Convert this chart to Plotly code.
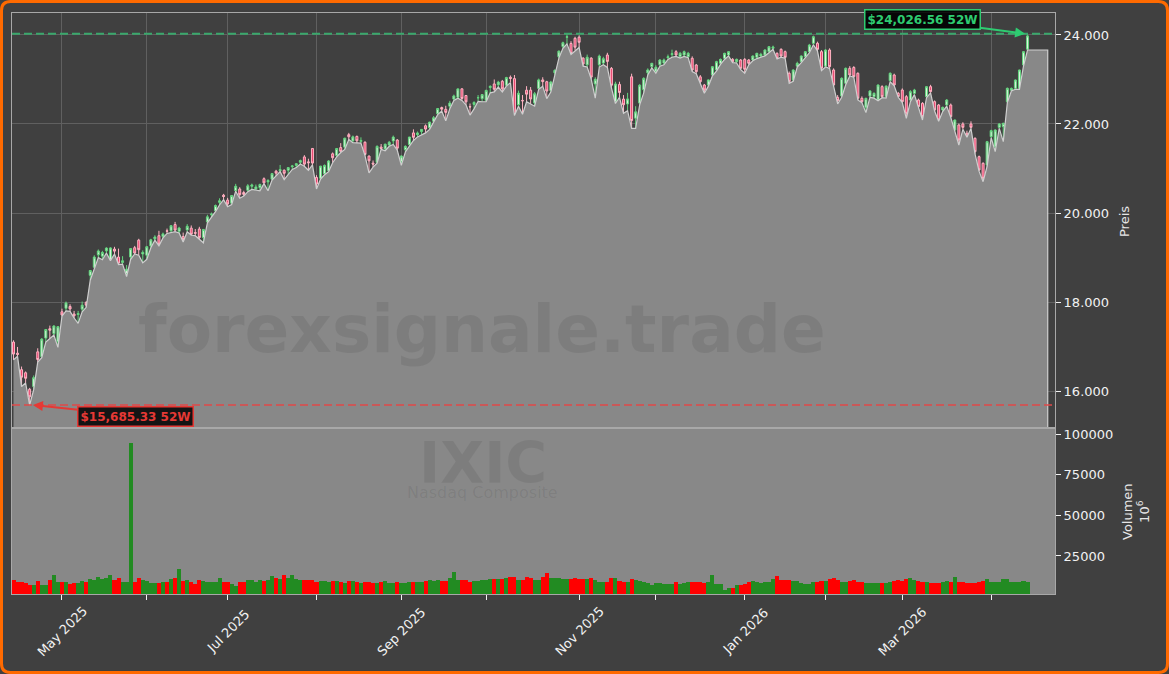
import pandas as pd
import plotly.graph_objects as go

# trading days (NASDAQ), Apr 14 2025 .. Apr 15 2026
holidays = ["2025-04-18", "2025-05-26", "2025-06-19", "2025-07-04", "2025-09-01",
            "2025-11-27", "2025-12-25", "2026-01-01", "2026-01-19", "2026-02-16",
            "2026-04-03"]
dates = [d for d in pd.bdate_range("2025-04-14", "2026-04-15")
         if d.strftime("%Y-%m-%d") not in holidays]

opens = [17100, 16850, 16480, 16410, 16040, 16100, 16880, 16770, 17190, 17400,
         17290, 17110, 17780, 17860, 17900, 17730, 17720, 17840, 17990, 18600,
         18780, 19060, 19030, 19150, 18950, 19190, 19010, 18890, 18640, 19010,
         19220, 19390, 19080, 19050, 19260, 19420, 19490, 19470, 19600, 19600,
         19740, 19590, 19470, 19620, 19660, 19560, 19640, 19450, 19800, 19960,
         20050, 20240, 20400, 20290, 20220, 20500, 20540, 20460, 20510, 20600,
         20540, 20570, 20770, 20700, 20760, 20940, 20950, 20960, 20960, 21040,
         21070, 21140, 21260, 21150, 21450, 20800, 20780, 20880, 20950, 21330,
         21290, 21470, 21480, 21760, 21620, 21720, 21610, 21590, 21280, 21120,
         21140, 21480, 21440, 21530, 21620, 21640, 21150, 21420, 21540, 21800,
         21760, 21830, 21960, 21920, 22060, 22230, 22370, 22330, 22400, 22560,
         22600, 22790, 22640, 22390, 22440, 22590, 22570, 22530, 22820, 22900,
         22880, 22960, 22870, 23050, 23020, 22430, 22530, 22760, 22760, 22470,
         22800, 22990, 22950, 22750, 23150, 23510, 23740, 23950, 23810, 23925,
         23950, 23480, 23330, 23480, 22900, 23330, 23370, 23550, 23250, 22500,
         22890, 22560, 22450, 23060, 22130, 22470, 22770, 23150, 23290, 23180,
         23330, 23370, 23490, 23560, 23625, 23513, 23551, 23513, 23476, 23326,
         23060, 22876, 22876, 23101, 23214, 23363, 23476, 23551, 23453, 23401,
         23438, 23453, 23438, 23438, 23498, 23530, 23551, 23625, 23700, 23588,
         23678, 23625, 23139, 22989, 23300, 23401, 23513, 23625, 23813, 23813,
         23625, 23300, 23663, 23214, 22599, 22629, 22914, 23251, 23270, 23139,
         22577, 22375, 22629, 22614, 22539, 22839, 22614, 22974, 23101, 22689,
         22764, 22614, 22539, 22689, 22539, 22465, 22614, 22839, 22502, 22427,
         22315, 22427, 22427, 21865, 21978, 22000, 21791, 22000, 21678, 21266,
         21116, 21079, 21716, 21491, 21925, 21940, 22502, 22760, 22801, 22801,
         23326, 23680]

highs = [17140, 16990, 16550, 16440, 16070, 16350, 16960, 17190, 17390, 17470,
         17480, 17460, 17850, 18010, 17950, 17800, 17800, 18010, 18020, 18720,
         19050, 19180, 19150, 19230, 19230, 19240, 19200, 19030, 18830, 19210,
         19260, 19420, 19160, 19260, 19420, 19500, 19600, 19560, 19650, 19730,
         19800, 19690, 19560, 19750, 19720, 19640, 19690, 19640, 19960, 20010,
         20190, 20330, 20430, 20340, 20400, 20655, 20580, 20500, 20650, 20660,
         20640, 20660, 20800, 20760, 20900, 20970, 21080, 20980, 21030, 21080,
         21120, 21200, 21300, 21220, 21460, 20850, 21060, 21090, 21190, 21360,
         21460, 21570, 21690, 21800, 21740, 21740, 21700, 21610, 21290, 21180,
         21520, 21550, 21560, 21620, 21740, 21660, 21300, 21520, 21710, 21880,
         21830, 21880, 21990, 22050, 22180, 22360, 22390, 22410, 22520, 22660,
         22800, 22800, 22650, 22460, 22510, 22650, 22670, 22770, 22870, 23000,
         22970, 22990, 23060, 23090, 23100, 22750, 22650, 22850, 22830, 22720,
         23020, 23050, 22970, 22970, 23230, 23650, 23850, 24020, 23860, 23960,
         23990, 23500, 23560, 23500, 23050, 23560, 23510, 23600, 23280, 22950,
         22950, 22650, 22700, 23130, 22400, 22900, 23050, 23250, 23370, 23320,
         23460, 23470, 23560, 23670, 23660, 23620, 23650, 23620, 23520, 23350,
         23100, 22900, 23000, 23300, 23420, 23470, 23600, 23640, 23480, 23470,
         23460, 23480, 23460, 23540, 23600, 23600, 23680, 23750, 23760, 23610,
         23700, 23650, 23180, 23230, 23400, 23540, 23640, 23800, 23985, 23850,
         23660, 23680, 23700, 23250, 22650, 23050, 23270, 23300, 23300, 23160,
         22620, 22590, 22760, 22710, 22890, 22870, 22870, 23160, 23130, 22720,
         22800, 22650, 22760, 22790, 22570, 22490, 22850, 22880, 22530, 22450,
         22390, 22560, 22460, 22100, 22010, 22040, 21850, 22060, 21700, 21290,
         21140, 21620, 21870, 21880, 22020, 22030, 22820, 22820, 23000, 23220,
         23640, 24026.56]

lows = [16700, 16780, 16100, 16180, 15685.33, 16030, 16650, 16750, 17100, 17170,
        17260, 16980, 17680, 17800, 17790, 17640, 17520, 17780, 17880, 18490,
        18760, 19000, 18950, 19100, 18930, 19080, 18840, 18850, 18570, 18960,
        19080, 19050, 18880, 18960, 19220, 19390, 19260, 19440, 19540, 19560,
        19580, 19550, 19350, 19580, 19500, 19490, 19400, 19330, 19780, 19900,
        20030, 20180, 20300, 20140, 20190, 20490, 20330, 20380, 20480, 20530,
        20510, 20500, 20660, 20500, 20740, 20830, 20930, 20750, 20860, 20980,
        21020, 21100, 21050, 20960, 21080, 20540, 20760, 20860, 20930, 21130,
        21260, 21360, 21430, 21650, 21580, 21570, 21570, 21290, 20900, 21030,
        21120, 21430, 21400, 21500, 21540, 21410, 21070, 21370, 21500, 21630,
        21710, 21760, 21800, 21880, 22030, 22210, 22290, 22070, 22340, 22530,
        22580, 22530, 22430, 22200, 22340, 22510, 22500, 22500, 22700, 22720,
        22830, 22720, 22850, 22930, 22190, 22400, 22220, 22500, 22450, 22400,
        22780, 22850, 22570, 22720, 23100, 23480, 23700, 23800, 23560, 23650,
        23720, 23300, 23280, 23010, 22580, 23280, 23330, 23270, 22810, 22460,
        22600, 22240, 22300, 21900, 21900, 22430, 22700, 23100, 23260, 23140,
        23300, 23330, 23450, 23500, 23520, 23480, 23520, 23490, 23180, 23130,
        22920, 22690, 22850, 23080, 23190, 23340, 23450, 23530, 23380, 23370,
        23220, 23140, 23330, 23420, 23470, 23500, 23530, 23600, 23680, 23460,
        23500, 23480, 22914, 22960, 23280, 23380, 23490, 23600, 23780, 23640,
        23200, 23280, 23250, 22850, 22450, 22600, 22880, 23080, 23050, 22540,
        22480, 22255, 22600, 22580, 22520, 22590, 22580, 22950, 22860, 22600,
        22480, 22127, 22500, 22660, 22370, 22090, 22590, 22700, 22290, 22060,
        22280, 22400, 22150, 21840, 21528, 21880, 21700, 21900, 21330, 20940,
        20704, 21050, 21690, 21378, 21900, 21603, 22480, 22740, 22780, 22780,
        23300, 23663]

closes = [16830, 16823, 16310, 16286, 15870, 16300, 16708, 17166, 17383, 17366,
          17461, 17446, 17710, 17978, 17844, 17690, 17738, 17928, 17929, 18708,
          19010, 19147, 19113, 19212, 19215, 19143, 18873, 18925, 18737, 19200,
          19100, 19175, 19114, 19243, 19399, 19460, 19299, 19530, 19591, 19715,
          19615, 19662, 19407, 19701, 19521, 19546, 19447, 19631, 19913, 19974,
          20167, 20273, 20370, 20202, 20393, 20601, 20412, 20418, 20611, 20630,
          20586, 20640, 20677, 20730, 20885, 20896, 20974, 20892, 21020, 21057,
          21108, 21178, 21098, 21130, 21122, 20650, 21053, 21070, 21169, 21242,
          21450, 21385, 21682, 21713, 21711, 21623, 21630, 21315, 21172, 21100,
          21497, 21450, 21545, 21590, 21705, 21456, 21280, 21498, 21707, 21700,
          21799, 21879, 21886, 22043, 22141, 22348, 22333, 22261, 22470, 22631,
          22789, 22573, 22497, 22384, 22484, 22591, 22660, 22755, 22845, 22780,
          22941, 22789, 23043, 23024, 22204, 22690, 22521, 22670, 22562, 22680,
          22991, 22953, 22740, 22942, 23205, 23637, 23827, 23958, 23581, 23725,
          23835, 23349, 23500, 23054, 23004, 23527, 23468, 23406, 22870, 22900,
          22708, 22432, 22564, 22078, 22273, 22872, 23025, 23215, 23365, 23275,
          23438, 23440, 23510, 23580, 23551, 23588, 23625, 23588, 23214, 23176,
          22950, 22764, 22990, 23288, 23401, 23453, 23588, 23625, 23401, 23453,
          23251, 23229, 23363, 23528, 23588, 23565, 23663, 23738, 23730, 23476,
          23528, 23498, 22951, 23214, 23363, 23528, 23625, 23775, 23962, 23678,
          23251, 23663, 23288, 22876, 22524, 23026, 23251, 23101, 23064, 22577,
          22502, 22577, 22742, 22689, 22876, 22614, 22850, 23139, 22876, 22614,
          22502, 22240, 22727, 22764, 22390, 22165, 22839, 22727, 22315, 22090,
          22375, 22539, 22165, 22090, 21641, 21925, 21731, 21925, 21378, 20967,
          20779, 21603, 21850, 21865, 22000, 22015, 22801, 22800, 22989, 23214,
          23625, 23980]

volume = [10300, 8900, 9000, 8400, 7200, 7200, 9600, 7400, 7400, 10300,
          13300, 9000, 9000, 8800, 7800, 8200, 8400, 9600, 9000, 10900,
          10300, 12100, 10900, 11500, 13300, 10300, 11500, 9000, 9000, 94500,
          9000, 11500, 10300, 9600, 8400, 8400, 8400, 9000, 9000, 10900,
          11500, 17000, 9600, 10300, 9000, 7800, 10300, 9600, 9000, 9000,
          9000, 11500, 9000, 9000, 7800, 6600, 9000, 9000, 10300, 10300,
          9000, 10000, 9600, 10300, 12700, 11500, 10900, 13300, 11500, 13300,
          11000, 10300, 10300, 10300, 10300, 9000, 9600, 9600, 9000, 9600,
          9600, 9000, 8400, 9600, 9600, 9000, 8400, 9000, 9000, 8400,
          8400, 9000, 9600, 8400, 8400, 9000, 8300, 8300, 9000, 9000,
          9000, 9000, 9640, 10000, 9600, 10300, 9640, 9640, 11490, 15170,
          10260, 10260, 10260, 9030, 9640, 9640, 10260, 10260, 10870, 10870,
          10870, 10870, 11490, 12100, 12100, 10260, 10260, 12100, 11490, 10260,
          10260, 12100, 14560, 11490, 11490, 11490, 10870, 10870, 10870, 11490,
          10870, 10870, 10870, 11490, 10260, 9030, 9030, 9030, 11490, 11490,
          9640, 9030, 9030, 10870, 10260, 9640, 9030, 8420, 7190, 8420,
          8420, 7800, 7800, 7800, 9030, 7800, 8420, 9030, 9030, 9030,
          9030, 8420, 9030, 13330, 7800, 7800, 4120, 5340, 5340, 7190,
          7190, 7800, 9030, 9640, 9030, 8420, 9030, 9030, 10870, 12720,
          10260, 10260, 10260, 9640, 9640, 8420, 8000, 7800, 9030, 9030,
          9640, 9640, 10870, 11490, 10260, 9030, 9030, 9640, 10260, 9030,
          9030, 8420, 8420, 8420, 8420, 8420, 8420, 9030, 9640, 10260,
          9640, 10870, 11490, 10260, 9640, 9030, 9030, 8420, 8420, 8420,
          9030, 9640, 9030, 12100, 9030, 9030, 8420, 8420, 8420, 9030,
          9640, 10870, 9030, 9030, 9030, 10870, 10870, 9030, 9030, 9030,
          9640, 9030]

price_ticks = [16000, 18000, 20000, 22000, 24000]
price_tick_text = ["16.000", "18.000", "20.000", "22.000", "24.000"]
vol_ticks = [25000, 50000, 75000, 100000]
month_labels = ["May 2025", "", "Jul 2025", "", "Sep 2025", "", "Nov 2025", "",
                "Jan 2026", "", "Mar 2026", ""]
high_52w = 24026.56
low_52w = 15685.33

x = list(range(len(dates)))
month_starts = [i for i in range(1, len(dates)) if dates[i].month != dates[i - 1].month]

W, H = 1169, 674
BG = "#404040"
FILL = "#888888"
FONT = "DejaVu Sans"
TXT = "#f2f2f2"

def px_x(p):
    return p / W

def px_y(p):
    return 1 - p / H

xdom = [px_x(12), px_x(1055)]
price_dom = [px_y(428), px_y(13)]
vol_dom = [px_y(594), px_y(428)]

fig = go.Figure()

# grey area under the lows, padded a few bars past the last candle
pad = 5
fig.add_trace(go.Scatter(
    x=x + [x[-1] + pad, x[-1] + pad], y=lows + [lows[-1], 10000],
    mode="lines", line=dict(color="#cfcfcf", width=1.2),
    fill="tozeroy", fillcolor=FILL, hoverinfo="skip", showlegend=False))

fig.add_trace(go.Candlestick(
    x=x, open=opens, high=highs, low=lows, close=closes,
    increasing=dict(line=dict(color="#63d47e", width=1), fillcolor="#dff5e2"),
    decreasing=dict(line=dict(color="#ffb3c3", width=1), fillcolor="#e8436d"),
    whiskerwidth=0, showlegend=False, hoverinfo="skip"))

vol_colors = ["forestgreen" if c >= o else "red" for o, c in zip(opens, closes)]
fig.add_trace(go.Bar(
    x=x, y=volume, marker=dict(color=vol_colors, line=dict(width=0)),
    width=1.0, xaxis="x2", yaxis="y2", showlegend=False, hoverinfo="skip"))

axis_common = dict(showline=True, mirror=True, linecolor="#a8a8a8", linewidth=1,
                   zeroline=False, tickfont=dict(family=FONT, size=13, color=TXT),
                   tickcolor=TXT)

fig.update_layout(
    width=W, height=H,
    margin=dict(l=0, r=0, t=0, b=0),
    paper_bgcolor=BG, plot_bgcolor=BG,
    font=dict(family=FONT, color=TXT),
    showlegend=False,
    bargap=0,
    xaxis=dict(domain=xdom, anchor="y", range=[-0.37, 257.8],
               tickvals=month_starts, showticklabels=False, ticks="",
               showgrid=True, gridcolor="#606060", gridwidth=1,
               rangeslider=dict(visible=False), **axis_common),
    yaxis=dict(domain=price_dom, anchor="x", side="right", range=[15169, 24494],
               tickvals=price_ticks, ticktext=price_tick_text,
               ticks="outside", ticklen=5,
               showgrid=True, gridcolor="#606060", gridwidth=1, **axis_common),
    xaxis2=dict(domain=xdom, anchor="y2", matches="x",
                tickvals=month_starts, showticklabels=False,
                ticks="outside", ticklen=5, showgrid=False, **axis_common),
    yaxis2=dict(domain=vol_dom, anchor="x2", side="right", range=[1600, 103700],
                tickvals=vol_ticks, ticktext=[str(v) for v in vol_ticks],
                ticks="outside", ticklen=5, showgrid=False, **axis_common),
)

# month labels, rotated and centred under their ticks
for tv, lab in zip(month_starts, month_labels):
    if lab:
        fig.add_annotation(text=lab, xref="x2", yref="paper", x=tv, y=px_y(631),
                           showarrow=False, textangle=-45,
                           xanchor="center", yanchor="middle",
                           font=dict(family=FONT, size=13, color=TXT))

# grey background of volume panel
fig.add_shape(type="rect", xref="paper", yref="paper",
              x0=xdom[0], x1=xdom[1], y0=vol_dom[0], y1=vol_dom[1],
              fillcolor=FILL, line=dict(width=0), layer="below")

# 52 week high / low lines
fig.add_shape(type="line", xref="paper", yref="y", x0=xdom[0], x1=xdom[1],
              y0=high_52w, y1=high_52w,
              line=dict(color="#3aa86c", width=2, dash="8px,4px"))
fig.add_shape(type="line", xref="paper", yref="y", x0=xdom[0], x1=xdom[1],
              y0=low_52w, y1=low_52w,
              line=dict(color="#e04848", width=1.5, dash="8px,4px"))

# orange frame with rounded corners
r, b = 9, 1.5
rx, ry = r / W, r / H
x0, x1, y0, y1 = b / W, 1 - b / W, b / H, 1 - b / H
frame = (f"M {x0 + rx},{y1} L {x1 - rx},{y1} Q {x1},{y1} {x1},{y1 - ry} "
         f"L {x1},{y0 + ry} Q {x1},{y0} {x1 - rx},{y0} L {x0 + rx},{y0} "
         f"Q {x0},{y0} {x0},{y0 + ry} L {x0},{y1 - ry} Q {x0},{y1} {x0 + rx},{y1} Z")
fig.add_shape(type="path", xref="paper", yref="paper", path=frame,
              line=dict(color="#ff6a00", width=3), layer="above")

# watermarks
wm = "rgba(0,0,0,0.08)"
fig.add_annotation(text="<b>forexsignale.trade</b>", xref="paper", yref="paper",
                   x=px_x(482), y=px_y(330), showarrow=False,
                   xanchor="center", yanchor="middle",
                   font=dict(family=FONT, size=66, color=wm))
fig.add_annotation(text="<b>IXIC</b>", xref="paper", yref="paper",
                   x=px_x(483), y=px_y(463), showarrow=False,
                   xanchor="center", yanchor="middle",
                   font=dict(family=FONT, size=57, color=wm))
fig.add_annotation(text="Nasdaq Composite", xref="paper", yref="paper",
                   x=px_x(482), y=px_y(492), showarrow=False,
                   xanchor="center", yanchor="middle",
                   font=dict(family=FONT, size=16, color=wm))

# 52W labels
fig.add_annotation(text=f"<b>${high_52w:,.2f} 52W</b>", x=250.4, y=high_52w,
                   xref="x", yref="y", ax=-103, ay=-14,
                   font=dict(family=FONT, size=12, color="#2ecc71"),
                   bgcolor="rgba(0,0,0,0.9)", bordercolor="#2ecc71",
                   borderwidth=1.5, borderpad=2,
                   arrowcolor="#2ecc71", arrowwidth=2, arrowhead=2, arrowsize=1)
fig.add_annotation(text=f"<b>${low_52w:,.2f} 52W</b>", x=4.8, y=low_52w,
                   xref="x", yref="y", ax=103, ay=11,
                   font=dict(family=FONT, size=12, color="#e53935"),
                   bgcolor="rgba(0,0,0,0.85)", bordercolor="#e53935",
                   borderwidth=1.5, borderpad=2,
                   arrowcolor="#e53935", arrowwidth=2, arrowhead=2, arrowsize=1)

# axis titles
fig.add_annotation(text="Preis", xref="paper", yref="paper",
                   x=px_x(1125), y=px_y(222), showarrow=False, textangle=-90,
                   xanchor="center", yanchor="middle",
                   font=dict(family=FONT, size=13, color="#e6e6e6"))
fig.add_annotation(text="Volumen<br>10<sup>6</sup>", xref="paper", yref="paper",
                   x=px_x(1136), y=px_y(512), showarrow=False, textangle=-90,
                   xanchor="center", yanchor="middle",
                   font=dict(family=FONT, size=13, color="#e6e6e6"))

fig.write_html("out.html", config={"displayModeBar": False},
               post_script="document.body.style.margin='0px';")
